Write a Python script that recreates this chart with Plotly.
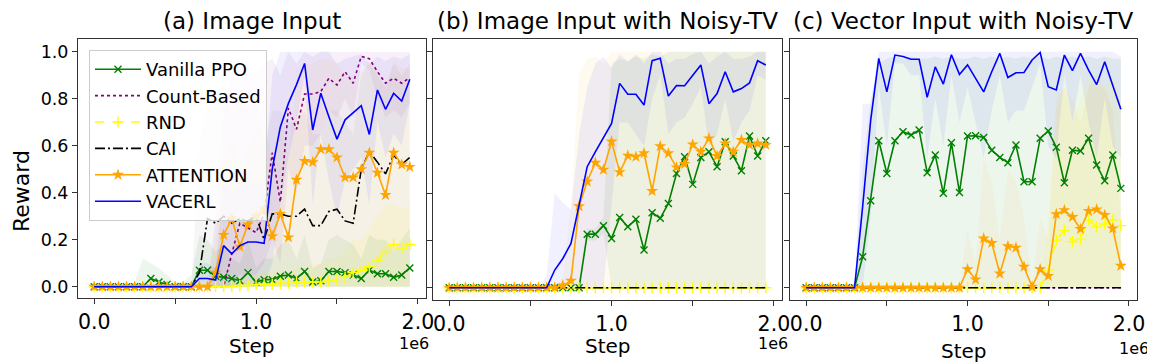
import plotly.graph_objects as go

# ---------------- data (x in environment steps) ----------------
STEPS = [0, 50000, 100000, 150000, 200000, 250000, 300000, 350000, 400000, 450000,
         500000, 550000, 600000, 650000, 700000, 750000, 800000, 850000, 900000, 950000,
         1000000, 1050000, 1100000, 1150000, 1200000, 1250000, 1300000, 1350000, 1400000, 1450000,
         1500000, 1550000, 1600000, 1650000, 1700000, 1750000, 1800000, 1850000, 1900000, 1950000]

SERIES = ["Vanilla PPO", "Count-Based", "RND", "CAI", "ATTENTION", "VACERL"]
PANEL_TITLES = ["(a) Image Input", "(b) Image Input with Noisy-TV", "(c) Vector Input with Noisy-TV"]
X_TICK_VALUES = [0, 500000, 1000000, 1500000, 2000000]
X_TICK_TEXT = ["0.0", "", "1.0", "", "2.0"]
Y_TICK_VALUES = [0.0, 0.2, 0.4, 0.6, 0.8, 1.0]
Y_TICK_TEXT = ["0.0", "0.2", "0.4", "0.6", "0.8", "1.0"]

FLAT = [0.0, 0.0, 0.0, 0.0, 0.0, 0.0, 0.0, 0.0, 0.0, 0.0,
        0.0, 0.0, 0.0, 0.0, 0.0, 0.0, 0.0, 0.0, 0.0, 0.0,
        0.0, 0.0, 0.0, 0.0, 0.0, 0.0, 0.0, 0.0, 0.0, 0.0,
        0.0, 0.0, 0.0, 0.0, 0.0, 0.0, 0.0, 0.0, 0.0, 0.0]

# (a) Image Input -- mean curves
A_PPO = [0, 0, 0, 0, 0, 0, 0, 0.035, 0.02, 0.01,
         0, 0, 0, 0.07, 0.07, 0.045, 0.04, 0.035, 0.025, 0.06,
         0.02, 0.03, 0.03, 0.045, 0.05, 0.035, 0.065, 0.02, 0.025, 0.065,
         0.065, 0.06, 0.05, 0.035, 0.07, 0.055, 0.055, 0.04, 0.05, 0.08]
A_CNT = [0, 0, 0, 0, 0, 0, 0, 0, 0, 0,
         0, 0, 0, 0, 0, 0, 0, 0.14, 0.27, 0.25,
         0.23, 0.31, 0.57, 0.36, 0.76, 0.67, 0.82, 0.82, 0.83, 0.887,
         0.858, 0.915, 0.866, 0.98, 0.97, 0.915, 0.866, 0.887, 0.866, 0.89]
A_RND = [0, 0, 0, 0, 0, 0, 0, 0, 0, 0,
         0, 0, 0, 0, 0, 0, 0, 0, 0.005, 0.005,
         0.01, 0.01, 0.01, 0.015, 0.015, 0.02, 0.02, 0.02, 0.02, 0.025,
         0.03, 0.04, 0.06, 0.07, 0.085, 0.11, 0.15, 0.18, 0.165, 0.18]
A_CAI = [0, 0, 0, 0, 0, 0, 0, 0, 0, 0,
         0, 0, 0, 0.06, 0.29, 0.27, 0.3, 0.27, 0.29, 0.28,
         0.3, 0.2, 0.31, 0.31, 0.3, 0.3, 0.33, 0.26, 0.26, 0.32,
         0.33, 0.28, 0.27, 0.5, 0.575, 0.53, 0.48, 0.56, 0.52, 0.55]
A_ATT = [0, 0, 0, 0, 0, 0, 0, 0, 0, 0,
         0, 0, 0, 0, 0, 0.06, 0.22, 0.29, 0.17, 0.265,
         0.3, 0.33, 0.215, 0.31, 0.21, 0.455, 0.535, 0.53, 0.585, 0.585,
         0.55, 0.465, 0.465, 0.5, 0.57, 0.485, 0.39, 0.57, 0.52, 0.51]
A_VAC = [0, 0, 0, 0, 0, 0, 0, 0, 0, 0,
         0, 0, 0, 0.035, 0.035, 0.028, 0.175, 0.14, 0.175, 0.19,
         0.19, 0.185, 0.5, 0.68, 0.78, 0.86, 0.95, 0.667, 0.823, 0.723,
         0.628, 0.71, 0.74, 0.77, 0.648, 0.837, 0.755, 0.823, 0.79, 0.883]

# (a) shaded spread (upper / lower)
A_PPO_HI = [0, 0, 0, 0, 0, 0.02, 0.12, 0.1, 0.08, 0.05,
            0.02, 0.02, 0.05, 0.22, 0.2, 0.15, 0.18, 0.12, 0.1, 0.2,
            0.08, 0.12, 0.12, 0.18, 0.2, 0.12, 0.22, 0.08, 0.1, 0.2,
            0.22, 0.2, 0.18, 0.12, 0.22, 0.2, 0.2, 0.15, 0.2, 0.25]
A_CNT_LO = [0, 0, 0, 0, 0, 0, 0, 0, 0, 0,
            0, 0, 0, 0, 0, 0, 0, 0, 0.05, 0.05,
            0.05, 0.1, 0.2, 0.1, 0.5, 0.4, 0.6, 0.6, 0.65, 0.75,
            0.72, 0.8, 0.72, 0.95, 0.92, 0.8, 0.72, 0.75, 0.72, 0.78]
A_CNT_HI = [0, 0, 0, 0, 0, 0, 0, 0, 0, 0,
            0, 0, 0, 0, 0, 0.3, 0.75, 0.9, 0.95, 0.9,
            0.92, 0.95, 0.97, 0.9, 1.0, 0.95, 1.0, 1.0, 1.0, 1.0,
            1.0, 1.0, 1.0, 1.0, 1.0, 1.0, 1.0, 1.0, 1.0, 1.0]
A_RND_HI = [0, 0, 0, 0, 0, 0, 0, 0, 0, 0,
            0, 0, 0, 0, 0, 0, 0, 0.02, 0.04, 0.05,
            0.05, 0.06, 0.06, 0.07, 0.07, 0.08, 0.08, 0.1, 0.1, 0.12,
            0.12, 0.15, 0.2, 0.2, 0.25, 0.3, 0.35, 0.35, 0.33, 0.35]
A_CAI_HI = [0, 0, 0, 0, 0, 0, 0, 0, 0, 0,
            0, 0, 0, 0.6, 0.8, 0.75, 0.8, 0.75, 0.8, 0.75,
            0.8, 0.6, 0.75, 0.75, 0.7, 0.7, 0.75, 0.65, 0.65, 0.75,
            0.75, 0.7, 0.65, 0.9, 0.95, 0.9, 0.85, 0.95, 0.9, 0.95]
A_ATT_HI = [0, 0, 0, 0, 0, 0, 0, 0, 0, 0,
            0, 0, 0, 0, 0, 0.2, 0.55, 0.65, 0.5, 0.6,
            0.65, 0.7, 0.55, 0.7, 0.55, 0.9, 0.95, 0.95, 0.97, 0.97,
            0.95, 0.9, 0.9, 0.92, 0.96, 0.92, 0.85, 0.96, 0.93, 0.93]
A_VAC_LO = [0, 0, 0, 0, 0, 0, 0, 0, 0, 0,
            0, 0, 0, 0, 0, 0, 0, 0, 0, 0,
            0, 0, 0.1, 0.35, 0.55, 0.7, 0.9, 0.35, 0.65, 0.45,
            0.3, 0.45, 0.5, 0.55, 0.35, 0.7, 0.55, 0.65, 0.6, 0.78]
A_VAC_HI = [0, 0, 0, 0, 0, 0, 0, 0, 0, 0,
            0, 0, 0, 0.1, 0.1, 0.08, 0.45, 0.4, 0.45, 0.45,
            0.45, 0.45, 0.9, 1.0, 1.0, 1.0, 1.0, 0.98, 1.0, 1.0,
            0.95, 0.97, 0.98, 0.99, 0.95, 0.98, 0.96, 0.98, 0.97, 0.99]

# (b) Image Input with Noisy-TV -- mean curves
B_PPO = [0, 0, 0, 0, 0, 0, 0, 0, 0, 0,
         0, 0, 0, 0, 0, 0, 0, 0.227, 0.227, 0.263,
         0.209, 0.298, 0.258, 0.29, 0.16, 0.318, 0.294, 0.357, 0.484, 0.555,
         0.438, 0.552, 0.576, 0.513, 0.619, 0.558, 0.496, 0.643, 0.558, 0.623]
B_ATT = [0, 0, 0, 0, 0, 0, 0, 0, 0, 0,
         0, 0, 0, 0, 0.01, 0.03, 0.345, 0.45, 0.53, 0.5,
         0.62, 0.49, 0.56, 0.555, 0.57, 0.41, 0.6, 0.57, 0.51, 0.524,
         0.607, 0.576, 0.633, 0.558, 0.611, 0.576, 0.626, 0.605, 0.611, 0.605]
B_VAC = [0, 0, 0, 0, 0, 0, 0, 0, 0, 0,
         0, 0, 0, 0.075, 0.124, 0.188, 0.345, 0.513, 0.576, 0.633,
         0.696, 0.866, 0.82, 0.82, 0.774, 0.962, 0.972, 0.812, 0.857, 0.856,
         0.9, 0.944, 0.78, 0.823, 0.915, 0.83, 0.844, 0.868, 0.962, 0.944]

B_PPO_LO = [0, 0, 0, 0, 0, 0, 0, 0, 0, 0,
            0, 0, 0, 0, 0, 0, 0, 0.2, 0.2, 0.23,
            0, 0, 0, 0, 0, 0, 0, 0, 0, 0,
            0, 0, 0, 0, 0, 0, 0, 0, 0, 0]
B_PPO_HI = [0, 0, 0, 0, 0, 0, 0, 0, 0, 0,
            0, 0, 0, 0, 0, 0, 0, 0.25, 0.25, 0.3,
            0.95, 0.97, 0.96, 0.98, 0.97, 0.99, 0.98, 1.0, 1.0, 1.0,
            1.0, 1.0, 1.0, 1.0, 1.0, 1.0, 1.0, 1.0, 1.0, 1.0]
B_ATT_HI = [0, 0, 0, 0, 0, 0, 0, 0, 0, 0,
            0, 0, 0, 0, 0.05, 0.35, 0.9, 0.97, 0.98, 0.95,
            1.0, 1.0, 1.0, 1.0, 1.0, 1.0, 1.0, 1.0, 1.0, 1.0,
            1.0, 1.0, 1.0, 1.0, 1.0, 1.0, 1.0, 1.0, 1.0, 1.0]
B_VAC_LO = [0, 0, 0, 0, 0, 0, 0, 0, 0, 0,
            0, 0, 0, 0, 0, 0, 0, 0, 0, 0,
            0.35, 0.7, 0.7, 0.65, 0.6, 0.8, 0.9, 0.65, 0.7, 0.72,
            0.78, 0.85, 0.6, 0.65, 0.8, 0.62, 0.7, 0.75, 0.9, 0.88]
B_VAC_HI = [0, 0, 0, 0, 0, 0, 0, 0, 0, 0,
            0, 0, 0.05, 0.4, 0.36, 0.33, 0.65, 0.85, 0.95, 0.98,
            0.93, 0.99, 0.96, 0.99, 0.95, 1.0, 1.0, 0.95, 0.97, 0.97,
            0.99, 1.0, 0.95, 0.98, 1.0, 0.97, 0.97, 0.98, 1.0, 1.0]

# (c) Vector Input with Noisy-TV -- mean curves
C_PPO = [0, 0, 0, 0, 0, 0, 0, 0.131, 0.369, 0.623,
         0.484, 0.623, 0.661, 0.647, 0.668, 0.487, 0.562, 0.4, 0.614, 0.404,
         0.643, 0.644, 0.637, 0.583, 0.552, 0.53, 0.605, 0.449, 0.449, 0.633,
         0.664, 0.595, 0.445, 0.583, 0.579, 0.633, 0.52, 0.453, 0.562, 0.421]
C_RND = [0, 0, 0, 0, 0, 0, 0, 0, 0, 0,
         0, 0, 0, 0, 0, 0, 0, 0, 0, 0,
         0, 0, 0, 0, 0, 0, 0, 0, 0, 0,
         0.075, 0.202, 0.243, 0.195, 0.206, 0.287, 0.258, 0.27, 0.288, 0.263]
C_ATT = [0, 0, 0, 0, 0, 0, 0, 0, 0, 0,
         0, 0, 0, 0, 0, 0, 0, 0, 0, 0,
         0.078, 0.035, 0.209, 0.19, 0.06, 0.176, 0.17, 0.089, 0.004, 0.078,
         0.05, 0.312, 0.329, 0.3, 0.249, 0.325, 0.332, 0.308, 0.251, 0.093]
C_VAC = [0, 0, 0, 0, 0, 0, 0, 0.343, 0.71, 0.972,
         0.83, 0.986, 0.98, 0.968, 0.968, 0.807, 0.936, 0.863, 0.987, 0.904,
         0.944, 0.887, 0.83, 0.915, 0.993, 0.891, 0.911, 0.912, 0.965, 0.997,
         0.852, 0.838, 0.986, 0.92, 0.993, 0.922, 0.861, 0.958, 0.852, 0.756]

C_PPO_HI = [0, 0, 0, 0, 0, 0, 0, 0.5, 0.8, 0.95,
            0.97, 0.98, 0.97, 0.98, 0.97, 0.97, 0.98, 0.97, 0.98, 0.97,
            0.97, 0.98, 0.97, 0.98, 0.97, 0.98, 0.97, 0.98, 0.97, 0.98,
            0.97, 0.98, 0.97, 0.98, 0.97, 0.98, 0.97, 0.98, 0.97, 0.97]
C_RND_HI = [0, 0, 0, 0, 0, 0, 0, 0, 0, 0,
            0, 0, 0, 0, 0, 0, 0, 0, 0, 0,
            0, 0, 0, 0, 0, 0, 0, 0, 0, 0,
            0.3, 0.75, 0.85, 0.7, 0.8, 0.9, 0.85, 0.85, 0.9, 0.8]
C_ATT_HI = [0, 0, 0, 0, 0, 0, 0, 0, 0, 0,
            0, 0, 0, 0, 0, 0, 0, 0, 0, 0,
            0.25, 0.1, 0.55, 0.45, 0.2, 0.5, 0.45, 0.3, 0.02, 0.3,
            0.2, 0.8, 0.85, 0.8, 0.7, 0.85, 0.9, 0.85, 0.75, 0.3]
C_VAC_LO = [0, 0, 0, 0, 0, 0, 0, 0, 0.3, 0.85,
            0.6, 0.95, 0.95, 0.9, 0.9, 0.55, 0.8, 0.6, 0.9, 0.7,
            0.85, 0.7, 0.55, 0.75, 0.9, 0.7, 0.75, 0.75, 0.85, 0.95,
            0.6, 0.55, 0.9, 0.7, 0.9, 0.7, 0.55, 0.8, 0.6, 0.55]
C_VAC_HI = [0, 0, 0, 0, 0, 0, 0, 0.78, 0.78, 1.0,
            1.0, 1.0, 1.0, 1.0, 1.0, 1.0, 1.0, 1.0, 1.0, 1.0,
            1.0, 1.0, 1.0, 1.0, 1.0, 1.0, 1.0, 1.0, 1.0, 1.0,
            1.0, 1.0, 1.0, 1.0, 1.0, 1.0, 1.0, 1.0, 1.0, 0.98]

# ---------------- styling ----------------
PAGE_W, PAGE_H = 1155, 363
OFF = 8                      # default page margin of the html body
W, H = PAGE_W - OFF, PAGE_H - OFF
FONT = "DejaVu Sans"


def px(xp):
    return (xp - OFF) / W


def py(yp):
    return (PAGE_H - yp) / H


COLORS = {"Vanilla PPO": "#008000", "Count-Based": "#800080", "RND": "#ffff00",
          "CAI": "#000000", "ATTENTION": "#ffa500", "VACERL": "#0000ff"}
RGB = {"Vanilla PPO": "0,128,0", "Count-Based": "128,0,128", "RND": "255,255,0",
       "CAI": "0,0,0", "ATTENTION": "255,165,0", "VACERL": "0,0,255"}
DASH = {"Vanilla PPO": "solid", "Count-Based": "dot", "RND": "dash",
        "CAI": "10px,3px,2px,3px", "ATTENTION": "solid", "VACERL": "solid"}
MARKER = {"Vanilla PPO": dict(symbol="x-thin", size=7, line=dict(width=1.4, color="#008000")),
          "RND": dict(symbol="cross-thin", size=8, line=dict(width=1.4, color="#ffff00")),
          "ATTENTION": dict(symbol="star", size=9, color="#ffa500", line=dict(width=0))}

# panel boxes in page pixels (left, right, top, bottom)
BOXES = [(78, 426, 39, 298), (433, 782, 39, 300), (790, 1137, 39, 300)]
Y_RANGES = [[-0.048, 1.054], [-0.052, 1.054], [-0.052, 1.054]]
X_RANGE = [-100000, 2050000]

PANELS = [
    {"Vanilla PPO": A_PPO, "Count-Based": A_CNT, "RND": A_RND, "CAI": A_CAI, "ATTENTION": A_ATT, "VACERL": A_VAC},
    {"Vanilla PPO": B_PPO, "Count-Based": FLAT, "RND": FLAT, "CAI": FLAT, "ATTENTION": B_ATT, "VACERL": B_VAC},
    {"Vanilla PPO": C_PPO, "Count-Based": FLAT, "RND": C_RND, "CAI": FLAT, "ATTENTION": C_ATT, "VACERL": C_VAC},
]
BANDS = [
    [("Vanilla PPO", FLAT, A_PPO_HI), ("Count-Based", A_CNT_LO, A_CNT_HI), ("RND", FLAT, A_RND_HI),
     ("CAI", FLAT, A_CAI_HI), ("ATTENTION", FLAT, A_ATT_HI), ("VACERL", A_VAC_LO, A_VAC_HI)],
    [("Vanilla PPO", B_PPO_LO, B_PPO_HI), ("ATTENTION", FLAT, B_ATT_HI), ("VACERL", B_VAC_LO, B_VAC_HI)],
    [("Vanilla PPO", FLAT, C_PPO_HI), ("RND", FLAT, C_RND_HI), ("ATTENTION", FLAT, C_ATT_HI),
     ("VACERL", C_VAC_LO, C_VAC_HI)],
]
BAND_ALPHA = {"Vanilla PPO": 0.07, "Count-Based": 0.06, "RND": 0.08, "CAI": 0.035,
              "ATTENTION": 0.06, "VACERL": 0.06}

fig = go.Figure()

for p in range(3):
    ax = "" if p == 0 else str(p + 1)
    xa, ya = "x" + ax, "y" + ax
    for name, lo, hi in BANDS[p]:
        fig.add_trace(go.Scatter(x=STEPS, y=lo, xaxis=xa, yaxis=ya, mode="lines",
                                 line=dict(width=0, color="rgba(0,0,0,0)"),
                                 showlegend=False, hoverinfo="skip"))
        fig.add_trace(go.Scatter(x=STEPS, y=hi, xaxis=xa, yaxis=ya, mode="lines",
                                 line=dict(width=0, color="rgba(0,0,0,0)"),
                                 fill="tonexty",
                                 fillcolor="rgba(%s,%.3f)" % (RGB[name], BAND_ALPHA[name]),
                                 showlegend=False, hoverinfo="skip"))
    for name in SERIES:
        has_marker = name in MARKER
        fig.add_trace(go.Scatter(
            x=STEPS, y=PANELS[p][name], xaxis=xa, yaxis=ya,
            mode="lines+markers" if has_marker else "lines",
            name=name, legendgroup=name, showlegend=(p == 0),
            line=dict(color=COLORS[name], width=1.6, dash=DASH[name]),
            marker=MARKER.get(name, None)))

axis_common = dict(showline=True, linecolor="#333333", linewidth=1, mirror=True,
                   ticks="outside", ticklen=5, tickcolor="#333333", showgrid=False,
                   zeroline=False, automargin=False)
layout = dict(template="none", width=W, height=H, margin=dict(l=0, r=0, t=0, b=0, pad=0),
              paper_bgcolor="white", plot_bgcolor="white",
              font=dict(family=FONT, color="black"))
for p in range(3):
    l, r, t, b = BOXES[p]
    ax = "" if p == 0 else str(p + 1)
    layout["xaxis" + ax] = dict(axis_common, domain=[px(l), px(r)], range=X_RANGE,
                                tickvals=X_TICK_VALUES, ticktext=X_TICK_TEXT,
                                tickfont=dict(size=20.5, family=FONT, color="black"),
                                anchor="y" + ax)
    layout["yaxis" + ax] = dict(axis_common, domain=[py(b), py(t)], range=Y_RANGES[p],
                                tickvals=Y_TICK_VALUES, ticktext=Y_TICK_TEXT,
                                showticklabels=(p == 0),
                                tickfont=dict(size=17.5, family=FONT, color="black"),
                                anchor="x" + ax)

annotations = []
for p in range(3):
    l, r, t, b = BOXES[p]
    cx = (l + r) / 2
    annotations.append(dict(text=PANEL_TITLES[p], x=px(cx), y=py(21.5), xref="paper", yref="paper",
                            showarrow=False, xanchor="center", yanchor="middle",
                            font=dict(size=23, family=FONT, color="black")))
    step_y = 346 if p < 2 else 351
    annotations.append(dict(text="Step", x=px(cx), y=py(step_y), xref="paper", yref="paper",
                            showarrow=False, xanchor="center", yanchor="middle",
                            font=dict(size=20, family=FONT, color="black")))
    off_y = 343 if p < 2 else 348
    off_x = [431, 790, 1151][p]
    annotations.append(dict(text="1e6", x=px(off_x), y=py(off_y), xref="paper", yref="paper",
                            showarrow=False, xanchor="right", yanchor="middle",
                            font=dict(size=16, family=FONT, color="black")))
annotations.append(dict(text="Reward", x=px(21), y=py(191), xref="paper", yref="paper",
                        showarrow=False, xanchor="center", yanchor="middle", textangle=-90,
                        font=dict(size=22, family=FONT, color="black")))
layout["annotations"] = annotations
layout["legend"] = dict(x=px(89), y=py(50), xanchor="left", yanchor="top",
                        bgcolor="rgba(255,255,255,0.8)", bordercolor="#cccccc", borderwidth=1,
                        font=dict(size=18, family=FONT, color="black"),
                        tracegroupgap=2, itemwidth=46, traceorder="normal")
fig.update_layout(**layout)
fig.write_html("out.html")
